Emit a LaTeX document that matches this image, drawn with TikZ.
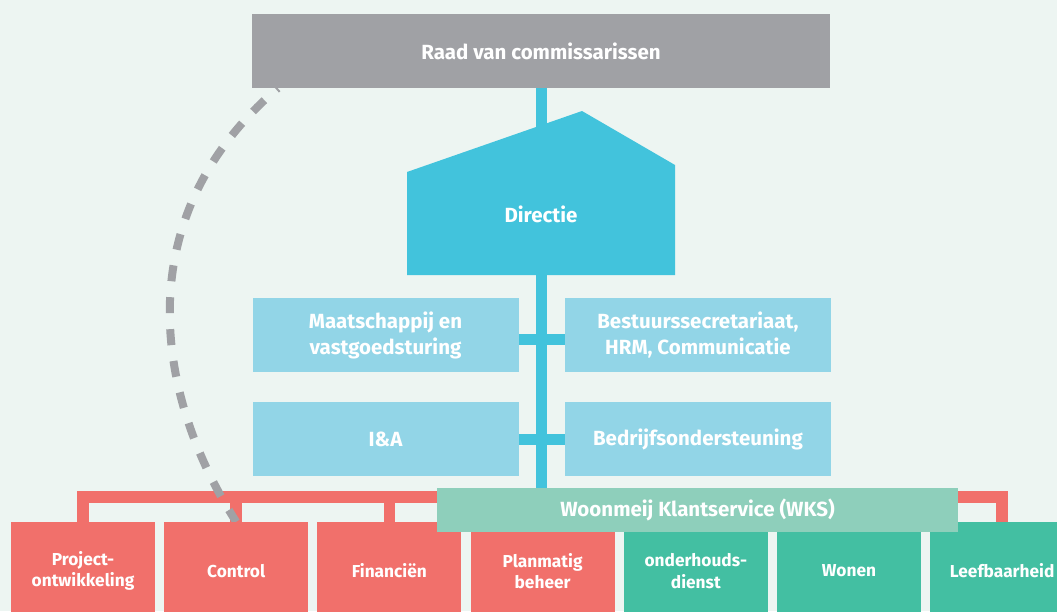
\documentclass[tikz,border=0pt]{standalone}
\usepackage{fontspec}
\setmainfont{Fira Sans}
\usetikzlibrary{positioning}
\pgfdeclarelayer{backdrop}
\pgfdeclarelayer{links}
\pgfsetlayers{backdrop,links,main}
\definecolor{bgmint}{HTML}{EDF5F2}
\definecolor{raadgrey}{HTML}{A0A1A5}
\definecolor{dirblue}{HTML}{42C3DC}
\definecolor{stafblue}{HTML}{92D5E7}
\definecolor{orgred}{HTML}{F1706B}
\definecolor{orggreen}{HTML}{43BFA2}
\definecolor{wksgreen}{HTML}{8ECFBB}
\tikzset{
  orgbox/.style={fill=#1, text=white, align=center, inner sep=0pt,
    font=\bfseries\fontsize{20.5}{26}\selectfont},
  stafbox/.style={orgbox=stafblue, minimum width=266pt, minimum height=74pt},
  dept/.style={orgbox=#1, minimum width=144pt, minimum height=98pt,
    font=\bfseries\fontsize{17.3}{21.7}\selectfont},
  stem/.style={draw=dirblue, line width=11pt},
  frame/.style={draw=orgred, line width=11.5pt},
  rvclink/.style={draw=raadgrey, line width=8pt, dash pattern=on 16pt off 16pt, dash phase=14pt}
}

\begin{document}
\begin{tikzpicture}[x=1pt, y=-1pt, node distance=8.8pt]
    \begin{pgfonlayer}{backdrop}
        \fill [bgmint] (0,0) rectangle (1057,611);
    \end{pgfonlayer}
    \clip (0,0) rectangle (1057,611);

    \node [orgbox=raadgrey, minimum width=578pt, minimum height=74pt] (Raad) at (541,51) {Raad van commissarissen};
    \fill [dirblue] (407,275) -- (407,172) -- (582,111) -- (675,165) -- (675,275) -- cycle;
    \node [orgbox=dirblue] (Directie) at (541,214) {Directie};

    \node [stafbox] (Maatschappij) at (385.5,335) {Maatschappij en\\vastgoedsturing};
    \node [stafbox, right=46pt of Maatschappij] (Bestuur) {Bestuurssecretariaat,\\HRM, Communicatie};
    \node [stafbox, below=30pt of Maatschappij] (IenA) {I\&A};
    \node [stafbox, right=46pt of IenA] (Bedrijf) {Bedrijfsondersteuning};

    \node [dept=orgred] (Project) at (83,571) {Project-\\ontwikkeling};
    \node [dept=orgred, right=of Project] (Control) {Control};
    \node [dept=orgred, right=of Control] (Financien) {Financiën};
    \node [dept=orgred, right=of Financien] (Planmatig) {Planmatig\\beheer};
    \node [dept=orggreen, right=of Planmatig] (Onderhoud) {onderhouds-\\dienst};
    \node [dept=orggreen, right=of Onderhoud] (Wonen) {Wonen};
    \node [dept=orggreen, right=of Wonen] (Leef) {Leefbaarheid};

    \node [orgbox=wksgreen, minimum width=521pt, minimum height=44.5pt] (WKS) at (697.5,510) {Woonmeij Klantservice (WKS)};

    \begin{pgfonlayer}{links}
        % red frame to the departments
        \draw [frame] (Project.north) -- ++(0,-25) -| (Leef.north);
        \foreach \d in {Control, Financien, Planmatig, Onderhoud, Wonen}
            \draw [frame] (\d.north) -- ++(0,-25);
        % supervision line
        \draw [rvclink] ([xshift=26pt]Raad.south west) .. controls (126,218) and (155.5,396) .. (Control.north);
        % main line
        \draw [stem] (Raad.south) -- (Raad.south |- WKS.north);
        \draw [stem] ([yshift=-4pt]Maatschappij.east) -- ([yshift=-4pt]Bestuur.west);
        \draw [stem] (IenA.east) -- (Bedrijf.west);
    \end{pgfonlayer}
\end{tikzpicture}
\end{document}
